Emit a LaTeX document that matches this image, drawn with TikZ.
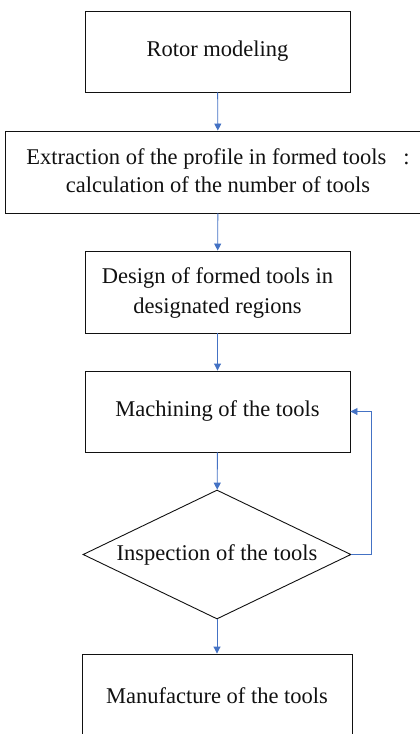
\documentclass[tikz,border=0pt]{standalone}
\usepackage{fontspec}
\setmainfont{Liberation Serif}
\usepackage{tikz}
\usetikzlibrary{arrows.meta,shapes.geometric}
\definecolor{fcBlue}{HTML}{4472C4}
\definecolor{fcInk}{HTML}{111111}
\tikzset{
  fc diagram/.style={font=\fontsize{22.5}{27.5}\selectfont, text=fcInk,
    x=1pt, y=1pt},
  fc box/.style={draw=fcInk, fill=white, line width=0.9pt,
    align=center, inner sep=0pt},
  fc decision/.style={fc box, diamond, shape aspect=2.08},
  fc arrow/.style={-{Triangle[length=7pt,width=7pt]}, draw=fcBlue, line width=0.9pt}
}
\begin{document}
\begin{tikzpicture}[fc diagram]
\useasboundingbox (0,0) rectangle (420,-734);
\node[fc box, minimum width=265pt, minimum height=81pt] (model) at (217.5,-51.5) {Rotor modeling};
\node[fc box, minimum width=426pt, minimum height=82pt, text depth=3pt] (extract) at (218,-172)
  {Extraction of the profile in formed tools\hspace{17pt}:\\calculation of the number of tools};
\node[fc box, minimum width=265pt, minimum height=82pt, text depth=3pt] (design) at (217.5,-292)
  {Design of formed tools in\\[2pt]designated regions};
\node[fc box, minimum width=265pt, minimum height=81pt] (machine) at (217.5,-411.5) {Machining of the tools};
\node[fc decision, minimum width=268pt, minimum height=129pt] (inspect) at (217,-554.5) {Inspection of the tools};
\node[fc box, minimum width=270pt, minimum height=84pt] (make) at (217,-696) {Manufacture of the tools};
% main flow
\draw[fc arrow] (model) -- (extract);
\draw[fc arrow] (extract) -- (design);
\draw[fc arrow] (design) -- (machine);
\draw[fc arrow] (machine) -- (inspect);
\draw[fc arrow] (inspect) -- (make);
% rework loop
\draw[fc arrow] (inspect.east) -- ++(20,0) |- (machine.east);
\end{tikzpicture}
\end{document}
